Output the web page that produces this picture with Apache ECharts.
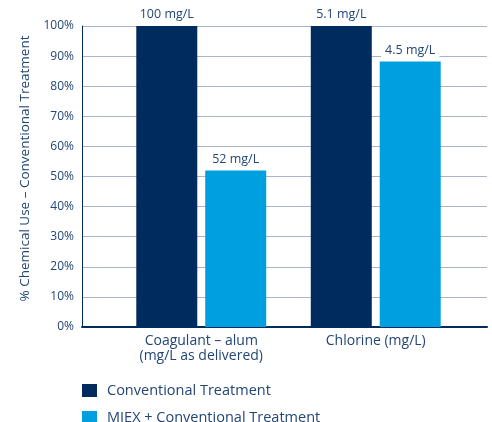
<!DOCTYPE html>
<html><head><meta charset="utf-8">
<script src="https://cdn.jsdelivr.net/npm/echarts@6/dist/echarts.min.js"></script>
<style>html,body{margin:0;padding:0;background:#fff}#c{width:492px;height:422px}</style>
</head><body><div id="c"></div>
<script>
var categories = ['Coagulant – alum\n(mg/L as delivered)', 'Chlorine (mg/L)'];
var seriesNames = ['Conventional Treatment', 'MIEX + Conventional Treatment'];
var conventional = [100, 100];
var miex = [52, 88.2];
var conventionalLabels = ['100 mg/L', '5.1 mg/L'];
var miexLabels = ['52 mg/L', '4.5 mg/L'];
var yTicks = [0, 10, 20, 30, 40, 50, 60, 70, 80, 90, 100];

var navy = '#002b5e', cyan = '#00a0e0', txt = '#234677', grid = '#a9b3cb';
var font = 'Open Sans';
var chart = echarts.init(document.getElementById('c'));
function lbl(arr){
  return {show:true, position:'top', distance:4, color:txt, fontFamily:font, fontSize:12.5,
    backgroundColor:'#fff', padding:[2,4,1,4],
    formatter:function(p){return arr[p.dataIndex];}};
}
var legendText = {color:txt, fontFamily:font, fontSize:14.5, padding:[0,0,0,5]};
chart.setOption({
  animation:false,
  textStyle:{fontFamily:font},
  grid:[
    {left:82, right:5, top:26, bottom:95},
    {left:114, right:29, top:26, bottom:95}
  ],
  xAxis:[
    {gridIndex:0, type:'value', min:0, max:1, axisLine:{show:true, onZero:false, lineStyle:{color:navy, width:2}},
     axisTick:{show:false}, axisLabel:{show:false}, splitLine:{show:false}},
    {gridIndex:1, type:'category', data:categories, axisLine:{show:false}, axisTick:{show:false},
     axisLabel:{color:txt, fontFamily:font, fontSize:14, margin:7, lineHeight:15}}
  ],
  yAxis:[
    {gridIndex:0, type:'value', min:0, max:100, interval:10,
     name:'% Chemical Use – Conventional Treatment', nameLocation:'middle', nameGap:50,
     nameTextStyle:{color:txt, fontFamily:font, fontSize:13.5, padding:[0,0,0,16]},
     axisLine:{show:true, lineStyle:{color:navy, width:1}}, axisTick:{show:false},
     axisLabel:{color:txt, fontFamily:font, fontSize:12, margin:8,
       formatter:function(v){return yTicks.indexOf(v)>=0 ? v+'%' : '';}},
     splitLine:{show:true, lineStyle:{color:grid, width:1}}},
    {gridIndex:1, type:'value', min:0, max:100, show:false, splitLine:{show:false}}
  ],
  legend:[
    {data:[seriesNames[0]], left:82, top:383, itemWidth:15, itemHeight:13, icon:'rect', padding:0,
     textStyle:legendText, itemStyle:{borderWidth:0}},
    {data:[seriesNames[1]], left:82, top:410, itemWidth:15, itemHeight:13, icon:'rect', padding:0,
     textStyle:legendText, itemStyle:{borderWidth:0}}
  ],
  series:[
    {name:seriesNames[0], type:'bar', xAxisIndex:1, yAxisIndex:1, data:conventional, barWidth:61, barGap:'13%',
     itemStyle:{color:navy}, label:lbl(conventionalLabels)},
    {name:seriesNames[1], type:'bar', xAxisIndex:1, yAxisIndex:1, data:miex, barWidth:61, barGap:'13%',
     itemStyle:{color:cyan}, label:lbl(miexLabels)}
  ]
});
</script></body></html>
